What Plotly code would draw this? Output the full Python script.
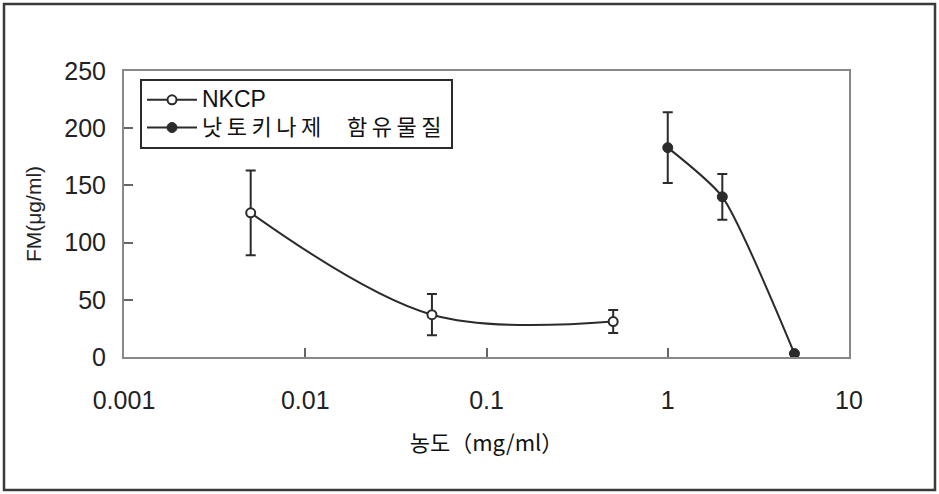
import plotly.graph_objects as go

# Data
nkcp_x = [0.005, 0.05, 0.5]
nkcp_y = [126, 37, 31]
nkcp_err = [37, 18, 10]

natto_x = [1, 2, 5]
natto_y = [183, 140, 3]
natto_err = [31, 20, 0]

series_names = ["NKCP", "낫토키나제  함유물질"]

x_ticks = [0.001, 0.01, 0.1, 1, 10]
x_ticklabels = ["0.001", "0.01", "0.1", "1", "10"]
y_ticks = [0, 50, 100, 150, 200, 250]

LINE = "#2b2b2b"
FONT = "Liberation Sans, Arial, Noto Sans CJK KR, sans-serif"
KFONT = "Noto Sans CJK KR, Liberation Sans, sans-serif"

fig = go.Figure()
fig.add_trace(go.Scatter(
    x=nkcp_x, y=nkcp_y,
    name='<span style="font-size:23px">' + series_names[0] + '</span>',
    mode="lines+markers",
    line=dict(color=LINE, width=2, shape="spline", smoothing=1.0),
    marker=dict(symbol="circle", size=9, color="white", line=dict(color=LINE, width=2)),
    error_y=dict(type="data", array=nkcp_err, visible=True, color=LINE, thickness=2, width=5),
))
fig.add_trace(go.Scatter(
    x=natto_x, y=natto_y,
    name='<span style="font-size:22px;letter-spacing:4.5px">' + series_names[1] + '</span>',
    mode="lines+markers",
    line=dict(color=LINE, width=2, shape="spline", smoothing=0.6),
    marker=dict(symbol="circle", size=10, color=LINE, line=dict(color=LINE, width=1)),
    error_y=dict(type="data", array=natto_err, visible=True, color=LINE, thickness=2, width=5),
))

# plot-area pixel box, used to place paper-coordinate decorations
L, R, T, B = 124, 849, 71, 357
def px(x):
    return (x - L) / (R - L)
def py(y):
    return (B - y) / (B - T)

fig.add_shape(type="rect", xref="paper", yref="paper",
              x0=px(4), x1=px(935), y0=py(490), y1=py(4),
              line=dict(color="#3a3a3a", width=2.5), layer="below")

fig.update_layout(
    width=939, height=494,
    margin=dict(l=L, r=939 - R, t=T, b=494 - B),
    plot_bgcolor="white", paper_bgcolor="white",
    showlegend=True,
    legend=dict(
        x=px(140), y=py(79), xanchor="left", yanchor="top",
        bordercolor="#2b2b2b", borderwidth=2, bgcolor="white",
        font=dict(family=FONT, size=19, color="#111"),
        tracegroupgap=0, itemwidth=50,
    ),
    xaxis=dict(
        type="log", range=[-3, 1],
        tickvals=x_ticks, ticktext=x_ticklabels,
        ticks="inside", ticklen=9, tickcolor="#666", tickwidth=1.5,
        showgrid=False, zeroline=False,
        showline=True, linecolor="#888", linewidth=2, mirror=True,
        tickfont=dict(family=FONT, size=25, color="#222"),
        ticklabelstandoff=20,
        title=dict(text="농도（mg/ml）", font=dict(family=KFONT, size=22, color="#111"), standoff=23),
    ),
    yaxis=dict(
        range=[0, 250], tickvals=y_ticks,
        ticks="inside", ticklen=9, tickcolor="#666", tickwidth=1.5,
        showgrid=False, zeroline=False,
        showline=True, linecolor="#888", linewidth=2, mirror=True,
        tickfont=dict(family=FONT, size=25, color="#222"),
        ticklabelstandoff=11,
        title=dict(text="FM(μg/ml)", font=dict(family=FONT, size=21, color="#222"), standoff=17),
    ),
)

fig.write_html(
    "out.html",
    config={"displayModeBar": False},
    post_script="document.body.style.margin='0';document.body.style.padding='0';",
)
